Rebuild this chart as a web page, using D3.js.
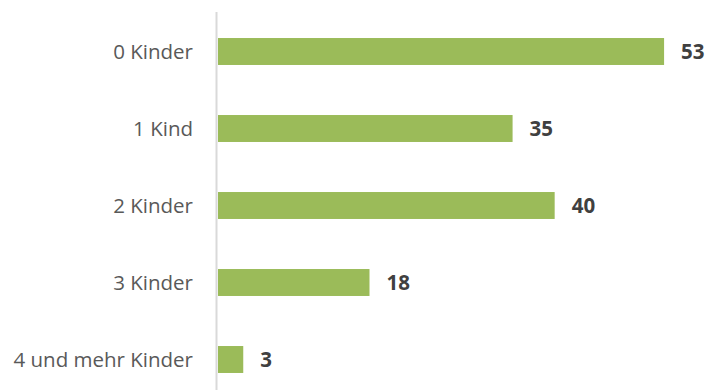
<!DOCTYPE html>
<html>
<head>
<meta charset="utf-8">
<script src="https://cdn.jsdelivr.net/npm/d3@7"></script>
<style>
  body { margin: 0; background: #fff; }
  svg text { font-family: "Open Sans", sans-serif; }
</style>
</head>
<body>
<div id="chart"></div>
<script>
// Data
const categories = ["0 Kinder", "1 Kind", "2 Kinder", "3 Kinder", "4 und mehr Kinder"];
const values = [53, 35, 40, 18, 3];

const width = 707;
const height = 390;

const svg = d3.select("#chart")
  .append("svg")
  .attr("width", width)
  .attr("height", height);

// Scales
const x = d3.scaleLinear()
  .domain([0, 60])
  .range([218, 723]);

const y = d3.scaleBand()
  .domain(categories)
  .range([13, 398])
  .paddingInner(0.65)
  .paddingOuter(0.325);

// Axis line
svg.append("line")
  .attr("x1", 216.5).attr("x2", 216.5)
  .attr("y1", 12).attr("y2", height)
  .attr("stroke", "#d9d9d9")
  .attr("stroke-width", 2);

// Bars
svg.selectAll("rect.bar")
  .data(values)
  .enter().append("rect")
  .attr("class", "bar")
  .attr("x", x(0))
  .attr("y", (d, i) => y(categories[i]))
  .attr("width", d => x(d) - x(0))
  .attr("height", y.bandwidth())
  .attr("fill", "#9bbb59");

// Category labels
svg.selectAll("text.cat")
  .data(categories)
  .enter().append("text")
  .attr("class", "cat")
  .attr("x", 193)
  .attr("y", d => y(d) + y.bandwidth() / 2)
  .attr("dy", "0.35em")
  .attr("text-anchor", "end")
  .attr("font-size", 20.5)
  .attr("fill", "#595959")
  .text(d => d);

// Value labels
svg.selectAll("text.val")
  .data(values)
  .enter().append("text")
  .attr("class", "val")
  .attr("x", d => x(d) + 17)
  .attr("y", (d, i) => y(categories[i]) + y.bandwidth() / 2)
  .attr("dy", "0.35em")
  .attr("font-size", 20.5)
  .attr("font-weight", "bold")
  .attr("fill", "#404040")
  .text(d => d);
</script>
</body>
</html>
